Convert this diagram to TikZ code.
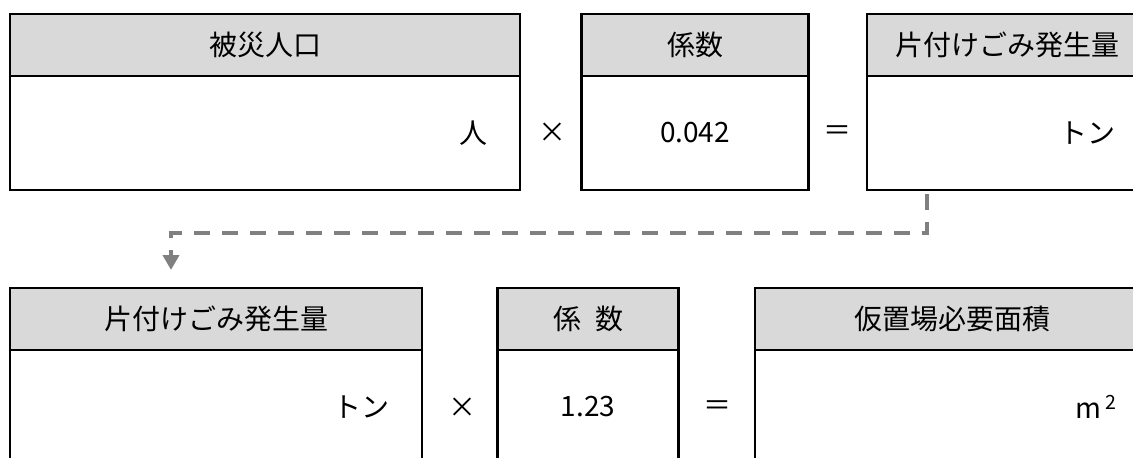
\documentclass[tikz,border=0pt]{standalone}
\usepackage{fontspec}
\setmainfont{Noto Sans CJK JP}
\usepackage{tikz}
\usetikzlibrary{positioning,arrows.meta}
\tikzset{hd/.style={draw,fill=gray!30,line width=2.5pt,outer sep=0pt,inner
sep=0pt,minimum height=62pt},bd/.style={draw,line width=2.5pt,outer
sep=0pt,inner xsep=32pt,inner ysep=0pt,minimum height=114pt,text
width=#1,align=right},nm/.style={bd=#1,align=center},op/.style={inner
sep=0pt},fl/.style={draw=gray,line width=4pt,dash pattern=on 16pt off
12pt,-{Triangle[length=15pt,width=16pt]}}}

\begin{document}
\begin{tikzpicture}[
			x=1pt,y=-1pt,
			font=\fontsize{28pt}{32pt}\selectfont
		]
		\useasboundingbox (0,0) rectangle (1133,458);
		\clip (0,0) rectangle (1133,458);
		\node[hd,minimum width=510pt] (pop) at (265,45) {被災人口};
		\node[bd=446pt,below=0pt of pop] (popv) {人};
		\node[op] (x1) at (552,133) {×};
		\node[hd,minimum width=227pt] (k1) at (695,45) {係数};
		\node[nm=163pt,below=0pt of k1] (k1v) {0.042};
		\node[op] (eq1) at (837,133) {＝};
		\node[hd,minimum width=280pt] (amt) at (1007,45) {片付けごみ発生量};
		\node[bd=216pt,below=0pt of amt] (amtv) {トン};
		\node[hd,minimum width=412pt] (amt2) at (216,319) {片付けごみ発生量};
		\node[bd=348pt,below=0pt of amt2] (amt2v) {トン};
		\node[op] (x2) at (462,408) {×};
		\node[hd,minimum width=181pt] (k2) at (588,319) {係\hspace{0.5em}数};
		\node[nm=117pt,below=0pt of k2] (k2v) {1.23};
		\node[op] (eq2) at (717,408) {＝};
		\node[hd,minimum width=394pt] (area) at (952,319) {仮置場必要面積};
		\node[bd=330pt,below=0pt of area] (areav) {m\hspace{4pt}\textsuperscript{2}};
		\draw[fl,shorten <=4pt] ([xshift=60pt]amtv.south west) -- ++(0,43)
			-| ([xshift=161pt,yshift=18pt]amt2.north west);
	\end{tikzpicture}
\end{document}
